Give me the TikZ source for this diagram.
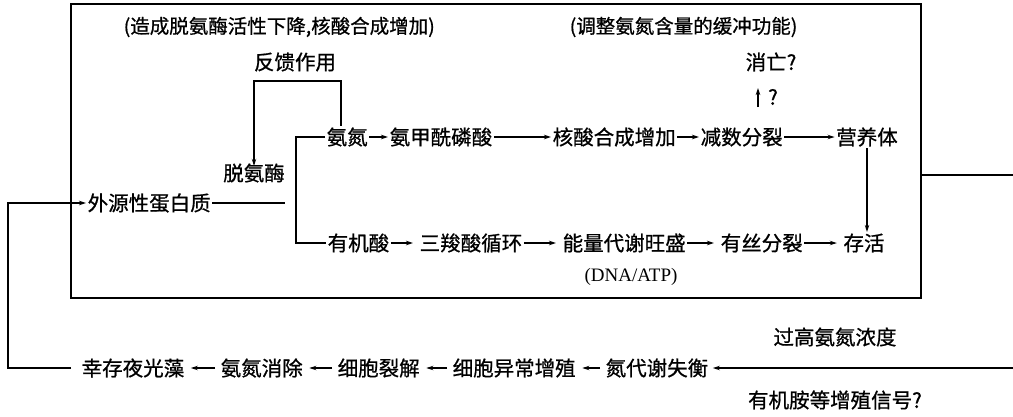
\documentclass[tikz,border=0pt]{standalone}
\usepackage{fontspec}
\setmainfont{Noto Sans CJK SC}[RawFeature={embolden=0.8}]
\newfontfamily\latinserif{Liberation Serif}
\usetikzlibrary{arrows.meta}
\begin{document}
\begin{tikzpicture}[x=1pt,y=-1pt,
  txt/.style={inner sep=1.5pt, font=\fontsize{20.5}{23}\selectfont},
  stxt/.style={inner sep=1.5pt, font=\fontsize{19.5}{22}\selectfont},
  wtxt/.style={txt, anchor=west},
  ln/.style={line width=1.1pt},
  arr/.style={ln, -{Stealth[length=7pt,width=4.5pt]}},
  garr/.style={arr, shorten >=5pt},
  barr/.style={arr, shorten >=5pt, shorten <=4pt},
  frame/.style={draw, line width=1.4pt, inner sep=0pt}]
\useasboundingbox (0,0) rectangle (1013,416);
% main frame
\node[frame, minimum width=850pt, minimum height=294pt] (box) at (496,151) {};
% annotations
\node[stxt, anchor=west] (ann1) at (122,27) {(造成脱氨酶活性下降,核酸合成增加)};
\node[stxt, anchor=west] (ann2) at (568,27) {(调整氨氮含量的缓冲功能)};
\node[txt] (fk) at (295,62) {反馈作用};
\node[wtxt] (xw) at (744,62) {消亡?};
\node[txt] (q1) at (773,97) {?};
\coordinate (upA) at (758,107);
\coordinate (upB) at (758,88);
% left part
\node[txt] (tam) at (254,173) {脱氨酶};
\node[wtxt] (wy) at (86,203) {外源性蛋白质};
\coordinate (wyEnd) at (285,203);
% row 1
\node[wtxt] (aa) at (325,137) {氨氮};
\node[wtxt] (amp) at (388,137) {氨甲酰磷酸};
\node[wtxt] (hs) at (551,137) {核酸合成增加};
\node[wtxt] (js) at (699,137) {减数分裂};
\node[txt] (yyt) at (867,137) {营养体};
% row 2
\node[wtxt] (yjs) at (326,243) {有机酸};
\node[wtxt] (sxs) at (418,243) {三羧酸循环};
\node[wtxt] (nl) at (561,243) {能量代谢旺盛};
\node[wtxt] (ys) at (719,243) {有丝分裂};
\node[txt] (ch) at (864,243) {存活};
\node[inner sep=1pt, font=\latinserif\fontsize{19}{21}\selectfont] (dna) at (631,277) {(DNA/ATP)};
% bracket
\coordinate (brT) at (296,137);
\coordinate (brB) at (296,243);
\draw[ln] (aa.west) -- (brT) -- (brB) -- (yjs.west);
\draw[ln] (wy.east) -- (wyEnd);
% feedback loop
\coordinate (fbR) at (341,81);
\coordinate (fbL) at (254,81);
\draw[arr] (aa.north -| fbR) -- (fbR) -- (fbL) -- ([yshift=-4pt]tam.north);
% row 1 arrows
\draw[arr] (aa) -- (amp);
\draw[arr] (amp) -- (hs);
\draw[arr] (hs) -- (js);
\draw[arr] (js) -- (yyt);
\draw[arr] (upA) -- (upB);
% row 2 arrows
\draw[garr] (yjs) -- (sxs);
\draw[garr] (sxs) -- (nl);
\draw[garr] (nl) -- (ys);
\draw[garr] (ys) -- (ch);
\draw[arr] (yyt.south) -- (yyt.south |- ch.north);
% right exit
\coordinate (rOut) at (1013,175);
\draw[ln] (box.east |- rOut) -- (rOut);
% bottom row
\node[txt] (gg) at (835,337) {过高氨氮浓度};
\node[txt] (yja) at (835,400) {有机胺等增殖信号?};
\node[wtxt] (ds) at (604,368) {氮代谢失衡};
\node[wtxt] (yc) at (451,368) {细胞异常增殖};
\node[wtxt] (xb) at (336,368) {细胞裂解};
\node[wtxt] (aq) at (219,368) {氨氮消除};
\node[wtxt] (xc) at (80,368) {幸存夜光藻};
\coordinate (bIn) at (1013,368);
\draw[arr, shorten >=3pt] (bIn) -- (ds);
\draw[barr] (ds) -- (yc);
\draw[barr] (yc) -- (xb);
\draw[barr] (xb) -- (aq);
\draw[barr] (aq) -- (xc);
\coordinate (lc) at (8,368);
\draw[arr, shorten <=9pt] (xc.west) -- (lc) |- (wy.west);
\end{tikzpicture}
\end{document}
